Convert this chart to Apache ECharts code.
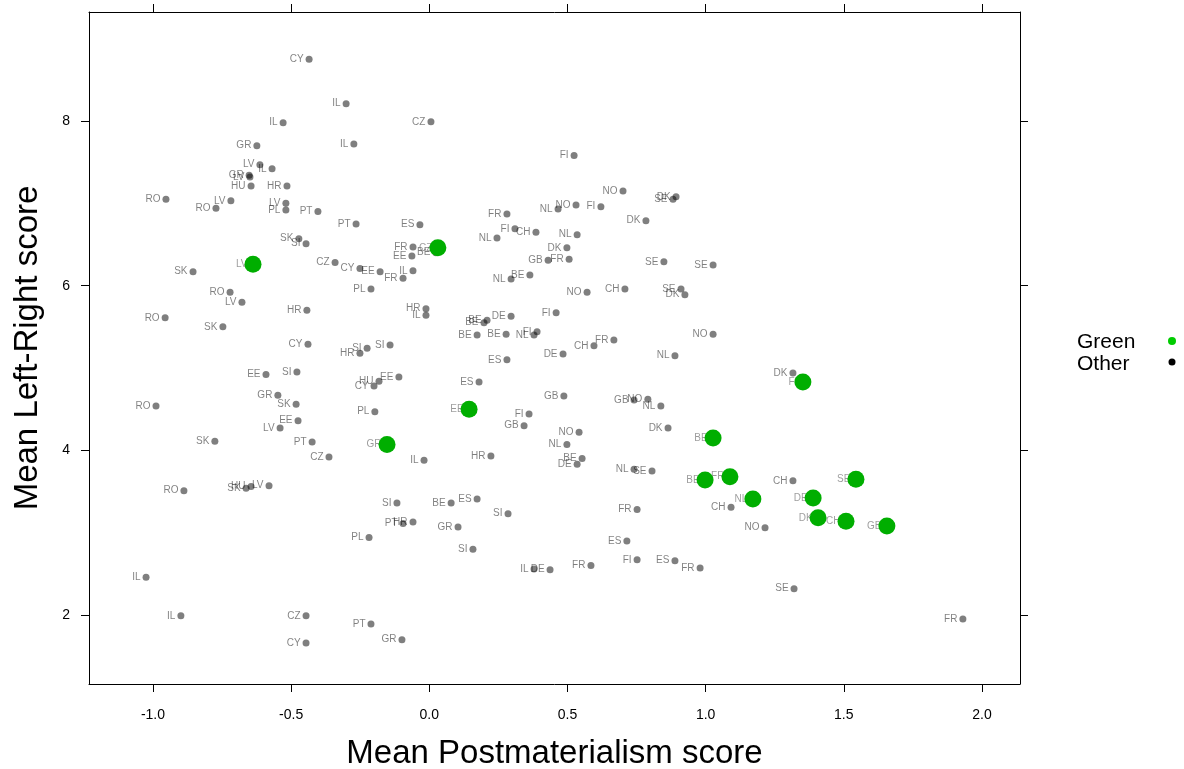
<!DOCTYPE html>
<html>
<head>
<meta charset="utf-8">
<script src="https://cdn.jsdelivr.net/npm/echarts@6/dist/echarts.min.js"></script>
<style>
  html, body { margin: 0; padding: 0; background: #fff; }
  #chart { width: 1184px; height: 769px; }
</style>
</head>
<body>
<div id="chart"></div>
<script>
// Party positions: mean postmaterialism score (x) vs mean left-right score (y)
const otherLabels = ['CY','IL','IL','CZ','IL','GR','FI','LV','IL','GR','LV','HU','HR','NO','DK','SE','RO','LV','RO','LV','PL','PT','NL','NO','FI','FR','DK','PT','ES','FI','CH','NL','NL','SK','SI','FR','EE','BE','DK','GB','FR','SE','SE','CZ','CY','EE','IL','SK','BE','NL','FR','PL','NO','CH','SE','DK','RO','LV','HR','HR','IL','FI','DE','RO','BE','BE','SK','BE','BE','FI','NL','NO','FR','CH','CY','SI','SI','HR','DE','NL','ES','SI','EE','EE','HU','CY','ES','DK','GR','GB','GB','NO','NL','RO','SK','PL','FI','EE','LV','GB','DK','NO','SK','PT','NL','CZ','HR','IL','BE','DE','NL','SE','CH','LV','SK','HU','RO','ES','SI','BE','CH','FR','SI','PT','HR','GR','NO','PL','ES','SI','FI','ES','FR','FR','IL','DE','IL','SE','IL','CZ','FR','PT','GR','CY'];
const otherX = [-0.435,-0.301,-0.529,0.006,-0.273,-0.624,0.524,-0.613,-0.569,-0.652,-0.649,-0.645,-0.515,0.701,0.893,0.882,-0.953,-0.718,-0.772,-0.519,-0.519,-0.403,0.466,0.531,0.621,0.281,0.784,-0.265,-0.034,0.310,0.386,0.535,0.245,-0.472,-0.446,-0.059,-0.063,0.024,0.498,0.430,0.506,0.849,1.027,-0.341,-0.251,-0.178,-0.059,-0.855,0.364,0.296,-0.095,-0.211,0.571,0.708,0.911,0.925,-0.721,-0.678,-0.443,-0.012,-0.012,0.459,0.296,-0.956,0.209,0.198,-0.747,0.173,0.278,0.390,0.379,1.027,0.668,0.596,-0.439,-0.142,-0.225,-0.251,0.484,0.889,0.281,-0.479,-0.591,-0.110,-0.182,-0.200,0.180,1.316,-0.548,0.487,0.741,0.791,0.838,-0.989,-0.482,-0.197,0.361,-0.475,-0.540,0.343,0.864,0.542,-0.776,-0.424,0.498,-0.363,0.223,-0.019,0.553,0.535,0.741,0.806,1.316,-0.580,-0.663,-0.645,-0.888,0.173,-0.117,0.079,1.092,0.752,0.285,-0.095,-0.059,0.104,1.215,-0.218,0.715,0.158,0.752,0.889,0.585,0.980,0.379,0.437,-1.025,1.320,-0.899,-0.446,1.931,-0.211,-0.099,-0.446];
const otherY = [8.75,8.21,7.98,7.99,7.72,7.70,7.58,7.47,7.42,7.34,7.32,7.21,7.21,7.15,7.08,7.05,7.05,7.03,6.94,7.00,6.92,6.90,6.93,6.98,6.96,6.87,6.79,6.75,6.74,6.69,6.65,6.62,6.58,6.57,6.51,6.47,6.36,6.40,6.46,6.31,6.32,6.29,6.25,6.28,6.21,6.17,6.18,6.17,6.13,6.08,6.09,5.96,5.92,5.96,5.96,5.89,5.92,5.80,5.70,5.72,5.64,5.67,5.63,5.61,5.58,5.55,5.50,5.40,5.41,5.44,5.40,5.41,5.34,5.27,5.29,5.28,5.24,5.18,5.17,5.15,5.10,4.95,4.92,4.89,4.84,4.78,4.83,4.94,4.67,4.66,4.61,4.62,4.54,4.54,4.56,4.47,4.44,4.36,4.27,4.30,4.27,4.22,4.11,4.10,4.07,3.92,3.93,3.88,3.90,3.83,3.77,3.75,3.63,3.57,3.54,3.56,3.51,3.41,3.36,3.36,3.31,3.28,3.23,3.11,3.13,3.07,3.06,2.94,2.90,2.80,2.67,2.66,2.60,2.57,2.56,2.55,2.46,2.32,1.99,1.99,1.95,1.89,1.70,1.66];

const greenLabels = ['LV','CZ','EE','GR','FI','BE','BE','FR','SE','NL','DE','DK','CH','GB'];
const greenX = [-0.638,0.031,0.144,-0.153,1.352,1.027,0.998,1.088,1.544,1.171,1.389,1.407,1.508,1.656];
const greenY = [6.26,6.46,4.50,4.07,4.83,4.15,3.64,3.68,3.65,3.41,3.42,3.18,3.14,3.08];

const xTicks = [-1.0,-0.5,0.0,0.5,1.0,1.5,2.0];
const yTicks = [2,4,6,8];

const FONT = '"Liberation Sans", Arial, sans-serif';
const GREY = 'rgba(0,0,0,0.5)';
const GREEN = '#00AE00';

function points(labels, xs, ys) {
  return labels.map((n, i) => ({ name: n, value: [xs[i], ys[i]] }));
}

const xRange = { min: -1.2315, max: 2.1377 };
const yRange = { min: 1.162, max: 9.324 };

const chart = echarts.init(document.getElementById('chart'), null, { renderer: 'canvas' });

const baseAxisLine = { show: true, onZero: false, lineStyle: { color: '#000', width: 1 } };

chart.setOption({
  animation: false,
  backgroundColor: '#fff',
  grid: { left: 89, right: 164, top: 12, bottom: 85, containLabel: false, outerBoundsMode: 'none' },
  xAxis: [
    {
      type: 'value', position: 'bottom', ...xRange,
      axisLine: baseAxisLine,
      axisTick: { show: true, length: 8, inside: false, customValues: xTicks, lineStyle: { color: '#000' } },
      axisLabel: { show: true, customValues: xTicks, margin: 24, fontSize: 14, fontFamily: FONT, color: '#000',
                   formatter: v => v.toFixed(1) },
      splitLine: { show: false },
      name: 'Mean Postmaterialism score', nameLocation: 'middle', nameGap: 53,
      nameTextStyle: { fontSize: 33, fontFamily: FONT, color: '#000' }
    },
    {
      type: 'value', position: 'top', ...xRange,
      axisLine: baseAxisLine,
      axisTick: { show: true, length: 8, inside: false, customValues: xTicks, lineStyle: { color: '#000' } },
      axisLabel: { show: false },
      splitLine: { show: false }
    }
  ],
  yAxis: [
    {
      type: 'value', position: 'left', ...yRange,
      axisLine: baseAxisLine,
      axisTick: { show: true, length: 8, inside: false, customValues: yTicks, lineStyle: { color: '#000' } },
      axisLabel: { show: true, customValues: yTicks, margin: 19, fontSize: 14, fontFamily: FONT, color: '#000' },
      splitLine: { show: false },
      name: 'Mean Left-Right score', nameLocation: 'middle', nameGap: 45, nameRotate: 90,
      nameTextStyle: { fontSize: 33, fontFamily: FONT, color: '#000' }
    },
    {
      type: 'value', position: 'right', ...yRange,
      axisLine: baseAxisLine,
      axisTick: { show: true, length: 8, inside: false, customValues: yTicks, lineStyle: { color: '#000' } },
      axisLabel: { show: false },
      splitLine: { show: false }
    }
  ],
  series: [
    {
      // other parties: translucent grey dots with country codes
      name: 'Other', type: 'scatter', z: 2,
      data: points(otherLabels, otherX, otherY),
      symbol: 'circle', symbolSize: 7,
      itemStyle: { color: GREY, opacity: 1 },
      label: { show: true, position: 'left', distance: 2, formatter: p => p.name,
               fontSize: 10, fontFamily: FONT, color: GREY },
      emphasis: { disabled: true }, silent: true
    },
    {
      // country codes for green parties, drawn beneath the green dots
      name: 'GreenLabels', type: 'scatter', z: 2,
      data: points(greenLabels, greenX, greenY),
      symbol: 'circle', symbolSize: 1,
      itemStyle: { color: 'rgba(0,0,0,0)' },
      label: { show: true, position: 'left', distance: 5, formatter: p => p.name,
               fontSize: 10, fontFamily: FONT, color: GREY },
      emphasis: { disabled: true }, silent: true
    },
    {
      name: 'Green', type: 'scatter', z: 3,
      data: points(greenLabels, greenX, greenY),
      symbol: 'circle', symbolSize: 17,
      itemStyle: { color: GREEN, opacity: 1 },
      label: { show: false },
      emphasis: { disabled: true }, silent: true
    }
  ],
  graphic: [
    { type: 'text', left: 1077, top: 332, style: { text: 'Green', font: '21px ' + FONT, fill: '#000' } },
    { type: 'text', left: 1077, top: 354, style: { text: 'Other', font: '21px ' + FONT, fill: '#000' } },
    { type: 'circle', shape: { cx: 1172, cy: 341, r: 4 }, style: { fill: '#00CC00' } },
    { type: 'circle', shape: { cx: 1172, cy: 362, r: 3.5 }, style: { fill: '#000' } }
  ]
});
</script>
</body>
</html>
